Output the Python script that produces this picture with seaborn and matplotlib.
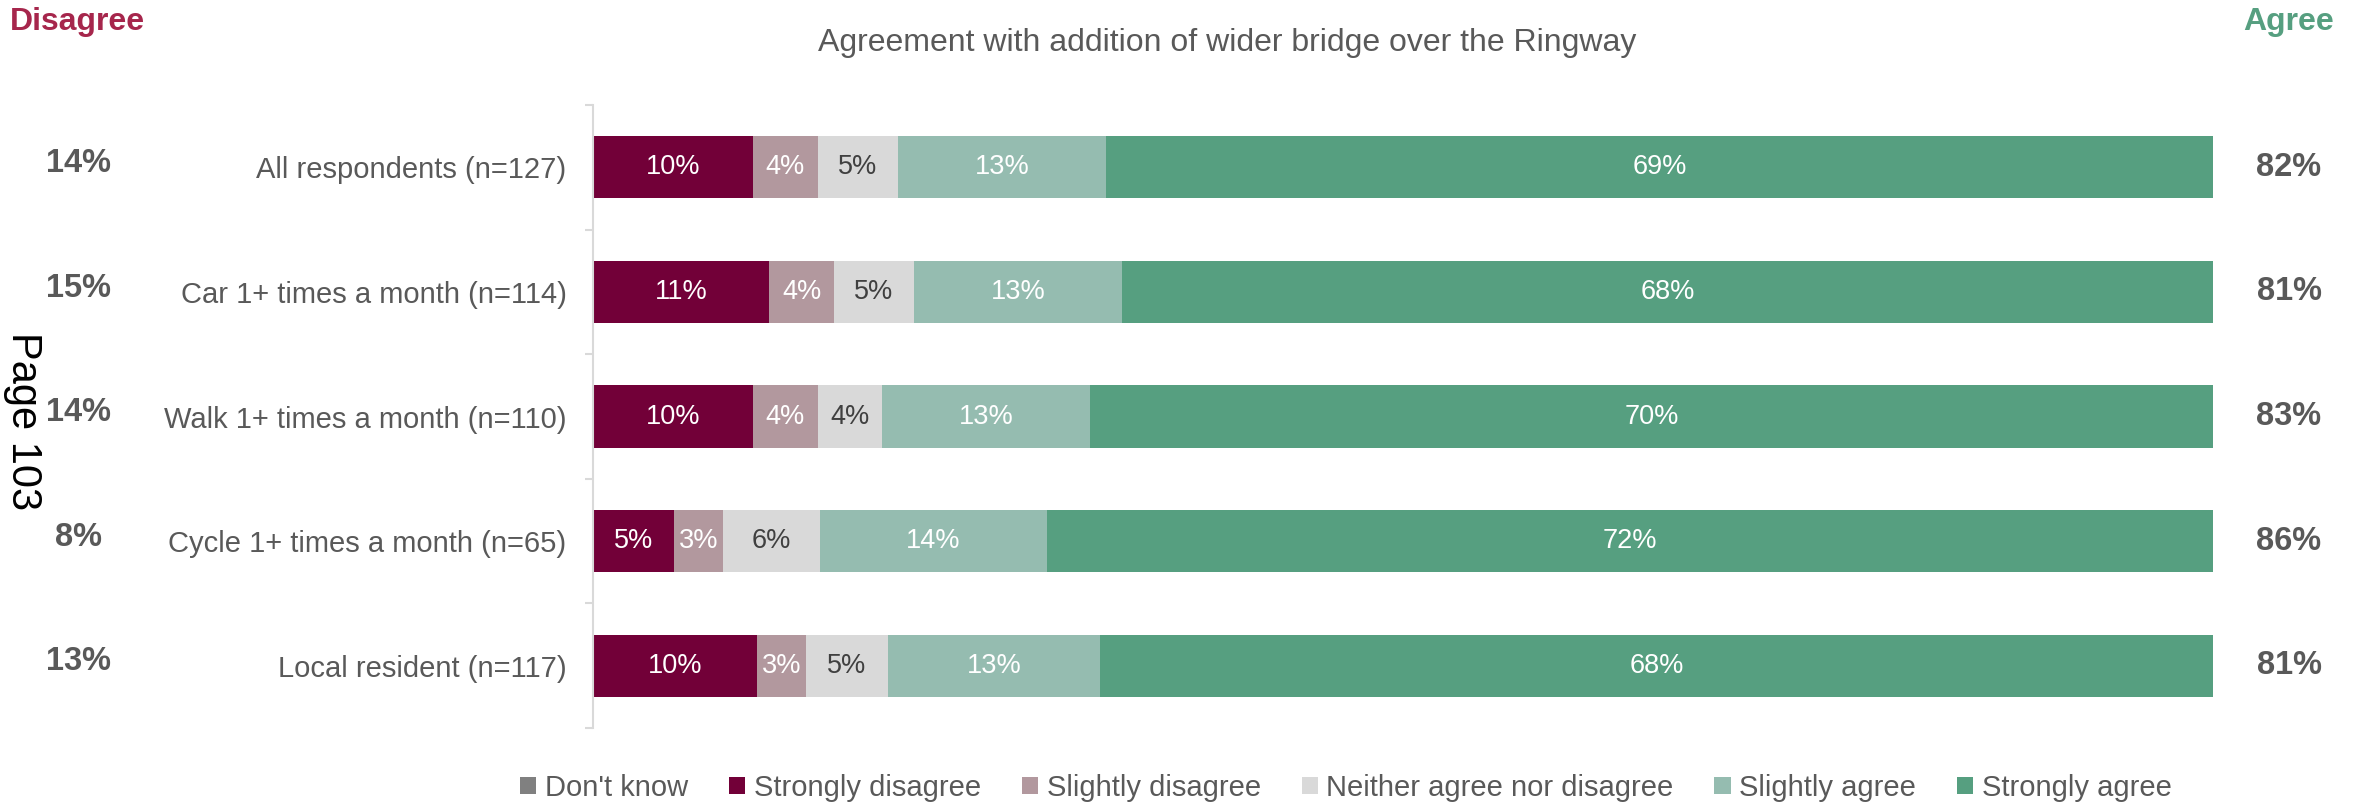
import numpy as np
import pandas as pd
import matplotlib
matplotlib.use("Agg")
import matplotlib.pyplot as plt
import matplotlib.transforms as mtransforms
from matplotlib.patches import Patch
import seaborn as sns

# data
groups = ["All respondents (n=127)", "Car 1+ times a month (n=114)",
          "Walk 1+ times a month (n=110)", "Cycle 1+ times a month (n=65)",
          "Local resident (n=117)"]
responses = ["Don't know", "Strongly disagree", "Slightly disagree",
             "Neither agree nor disagree", "Slightly agree", "Strongly agree"]
dont_know = [0, 0, 0, 0, 0]
strongly_disagree = [10, 11, 10, 5, 10]
slightly_disagree = [4, 4, 4, 3, 3]
neither = [5, 5, 4, 6, 5]
slightly_agree = [13, 13, 13, 14, 13]
strongly_agree = [69, 68, 70, 72, 68]
net_disagree = [14, 15, 14, 8, 13]
net_agree = [82, 81, 83, 86, 81]

colors = ["#808080", "#720038", "#B2989E", "#D9D9D9", "#95BCB0", "#569F80"]
label_colors = ["white", "white", "white", "#404040", "white", "white"]
grey = "#595959"

df = pd.DataFrame({"group": groups, "Don't know": dont_know,
                   "Strongly disagree": strongly_disagree,
                   "Slightly disagree": slightly_disagree,
                   "Neither agree nor disagree": neither,
                   "Slightly agree": slightly_agree,
                   "Strongly agree": strongly_agree})

# rounded labels don't add up to 100, so scale bar lengths per row
shares = df[responses].div(df[responses].sum(axis=1), axis=0) * 100
cum = shares.cumsum(axis=1)

sns.set_theme(style="white")
plt.rcParams["font.family"] = ["Liberation Sans", "DejaVu Sans"]

fig = plt.figure(figsize=(23.62, 8.05), dpi=100)
ax = fig.add_axes([593 / 2362, 1 - 728 / 805, (2213 - 593) / 2362, (728 - 105) / 805])

# draw cumulative bars from the longest down so they stack
for resp, col in reversed(list(zip(responses, colors))):
    sns.barplot(x=cum[resp], y=df["group"], color=col, orient="h",
                width=0.5, linewidth=0, saturation=1, ax=ax)

# segment labels
for i in range(len(groups)):
    for j, resp in enumerate(responses):
        v = df.loc[i, resp]
        if v <= 0:
            continue
        mid = cum.loc[i, resp] - shares.loc[i, resp] / 2
        ax.text(mid, i, f"{v}%", ha="center", va="center",
                color=label_colors[j], fontsize=19.5)

ax.set_xlim(0, 100)
ax.set_ylim(4.5, -0.5)
ax.set_xlabel("")
ax.set_ylabel("")
ax.set_xticks([])
for s in ["top", "right", "bottom"]:
    ax.spines[s].set_visible(False)
ax.spines["left"].set_color("#D9D9D9")
ax.spines["left"].set_linewidth(1.5)
ax.set_yticks(range(len(groups)))
ax.set_yticklabels(groups, fontsize=21, color=grey)
ax.tick_params(axis="y", which="major", length=0, pad=19)
ax.set_yticks(np.arange(-0.5, len(groups), 1), minor=True)
ax.tick_params(axis="y", which="minor", length=6, width=1.5, color="#D9D9D9", left=True)

# net disagree / agree columns
trans = mtransforms.blended_transform_factory(fig.transFigure, ax.transData)
for i in range(len(groups)):
    fig.text(78 / 2362, i - 0.03, f"{net_disagree[i]}%", transform=trans, ha="center",
             va="center", fontsize=23.5, fontweight="bold", color=grey)
    fig.text(2289 / 2362, i, f"{net_agree[i]}%", transform=trans, ha="center",
             va="center", fontsize=23.5, fontweight="bold", color=grey)

fig.text(10 / 2362, 1 - 22 / 805, "Disagree", ha="left", va="center",
         fontsize=23, fontweight="bold", color="#A6264C")
fig.text(2289 / 2362, 1 - 22 / 805, "Agree", ha="center", va="center",
         fontsize=23, fontweight="bold", color="#569F80")
fig.text(1227 / 2362, 1 - 43 / 805, "Agreement with addition of wider bridge over the Ringway",
         ha="center", va="center", fontsize=23, color=grey)
fig.text(23 / 2362, 1 - 421 / 805, "Page 103", rotation=-90, ha="center",
         va="center", fontsize=30, color="black")

handles = [Patch(facecolor=c, edgecolor="none", label=r) for r, c in zip(responses, colors)]
leg = fig.legend(handles=handles, loc="center", bbox_to_anchor=(1346 / 2362, 1 - 788 / 805),
                 ncol=6, frameon=False, fontsize=21, handlelength=0.55, handleheight=0.55,
                 handletextpad=0.3, columnspacing=1.4)
for t in leg.get_texts():
    t.set_color(grey)

fig.savefig("out.png", dpi=100)
